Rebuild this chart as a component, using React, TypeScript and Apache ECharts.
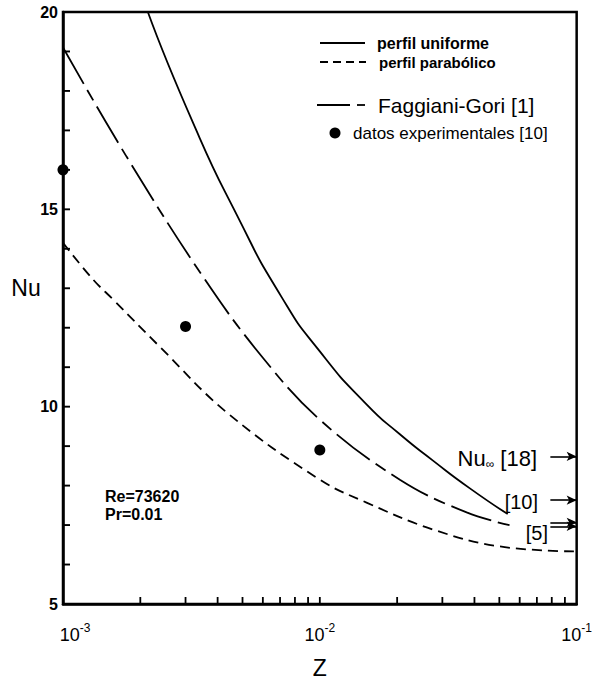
import React, { useEffect, useRef } from 'react';
import * as echarts from 'echarts';

// ---- data ----
const uniformZ = [2.14e-3, 3.21e-3, 4.75e-3, 7.11e-3, 1e-2, 1.52e-2, 2.05e-2, 2.75e-2, 3.84e-2, 5.39e-2];
const uniformNu = [20.0, 17.19, 14.86, 12.77, 11.4, 10.06, 9.3, 8.64, 7.93, 7.28];

const parabolicZ = [1e-3, 1.31e-3, 1.57e-3, 2.38e-3, 4.35e-3, 1e-2, 1.52e-2, 2.75e-2, 5.0e-2, 1e-1];
const parabolicNu = [14.15, 13.22, 12.71, 11.52, 9.85, 8.15, 7.57, 6.89, 6.46, 6.33];

const faggianiZ = [1e-3, 1.77e-3, 3.57e-3, 6.0e-3, 1e-2, 2.05e-2, 3.73e-2, 5.8e-2];
const faggianiNu = [19.1, 16.33, 13.22, 11.24, 9.67, 8.15, 7.32, 6.96];

const experimentalZ = [1e-3, 3e-3, 1e-2];
const experimentalNu = [16.0, 12.03, 8.9];

// asymptotic Nu values marked with arrows at the right border
const nuInfValues = [8.74, 7.63, 7.07, 6.97];
const arrowStartZ = 0.079;

// tick positions (drawn as inward tick marks)
const xTickZ = [
  2e-3, 3e-3, 4e-3, 5e-3, 6e-3, 7e-3, 8e-3, 9e-3, 1e-2,
  2e-2, 3e-2, 4e-2, 5e-2, 6e-2, 7e-2, 8e-2, 9e-2,
];
const yTickNu = [6, 7, 8, 9, 10, 11, 12, 13, 14, 15, 16, 17, 18, 19];

const yTicks = { min: 5, max: 20, interval: 5 };
const xRange = { min: 1e-3, max: 1e-1 };

const SANS = '"Liberation Sans", Arial, sans-serif';

function zip(xs: number[], ys: number[]) {
  return xs.map((x, i) => [x, ys[i]]);
}

export default function App() {
  const ref = useRef<HTMLDivElement>(null);

  useEffect(() => {
    document.body.style.margin = '0';
    if (!ref.current) return;
    const chart = echarts.init(ref.current, undefined, { renderer: 'svg' });

    const option: any = {
      animation: false,
      backgroundColor: '#ffffff',
      grid: {
        left: 63,
        right: 18,
        top: 12,
        bottom: 79,
        show: true,
        borderColor: '#000',
        borderWidth: 2.5,
        backgroundColor: 'transparent',
      },
      xAxis: {
        type: 'log',
        logBase: 10,
        min: xRange.min,
        max: xRange.max,
        axisLine: { lineStyle: { color: '#000', width: 2.5 } },
        axisTick: { show: false },
        splitLine: { show: false },
        minorTick: { show: false },
        axisLabel: {
          margin: 18,
          color: '#000',
          formatter: (v: number) => {
            const e = Math.round(Math.log10(v));
            if (e === -3) return `{bf|10}{s|${e}}`;
            return `{b|10}{s|${e}}`;
          },
          rich: {
            b: { fontSize: 18, fontFamily: SANS, color: '#000', lineHeight: 22, verticalAlign: 'bottom' },
            bf: { fontSize: 18, fontFamily: SANS, color: '#000', lineHeight: 22, verticalAlign: 'bottom', padding: [0, 0, 0, 24] },
            s: { fontSize: 12, fontFamily: SANS, color: '#000', lineHeight: 12, verticalAlign: 'top' },
          },
        },
        name: 'Z',
        nameLocation: 'middle',
        nameGap: 52,
        nameTextStyle: { fontSize: 23, color: '#000', fontFamily: SANS },
      },
      yAxis: {
        type: 'value',
        min: yTicks.min,
        max: yTicks.max,
        interval: yTicks.interval,
        axisLine: { show: true, lineStyle: { color: '#000', width: 2.5 } },
        axisTick: { show: false },
        minorTick: { show: false },
        splitLine: { show: false },
        axisLabel: {
          margin: 5,
          color: '#000',
          fontSize: 16,
          fontWeight: 'bold',
          fontFamily: SANS,
        },
      },
      series: [
        {
          name: 'perfil uniforme',
          type: 'line',
          data: zip(uniformZ, uniformNu),
          showSymbol: false,
          smooth: 0.6,
          lineStyle: { color: '#000', width: 1.8, type: 'solid' },
          markLine: {
            silent: true,
            symbol: ['none', 'arrow'],
            symbolSize: [7, 10],
            label: { show: false },
            lineStyle: { color: '#000', width: 1.6, type: 'solid' },
            data: nuInfValues.map((v) => [
              { coord: [arrowStartZ, v] },
              { coord: [xRange.max, v] },
            ]),
          },
        },
        {
          name: 'perfil parabólico',
          type: 'line',
          data: zip(parabolicZ, parabolicNu),
          showSymbol: false,
          smooth: 0.4,
          lineStyle: { color: '#000', width: 1.8, type: [10, 6] },
        },
        {
          name: 'Faggiani-Gori [1]',
          type: 'line',
          data: zip(faggianiZ, faggianiNu),
          showSymbol: false,
          smooth: 0.4,
          lineStyle: { color: '#000', width: 1.8, type: [42, 7, 12, 7] },
        },
        {
          name: 'datos experimentales [10]',
          type: 'scatter',
          data: zip(experimentalZ, experimentalNu),
          symbol: 'circle',
          symbolSize: 11,
          clip: false,
          z: 5,
          itemStyle: { color: '#000', opacity: 1 },
        },
        {
          name: 'x ticks',
          type: 'scatter',
          data: xTickZ.map((z) => [z, yTicks.min]),
          symbol: 'rect',
          symbolSize: [1.8, 7],
          symbolOffset: [0, -3.5],
          clip: false,
          silent: true,
          itemStyle: { color: '#000', opacity: 1 },
        },
        {
          name: 'y ticks',
          type: 'scatter',
          data: yTickNu.map((n) => [xRange.min, n]),
          symbol: 'rect',
          symbolSize: [7, 1.9],
          symbolOffset: [3.5, 0],
          clip: false,
          silent: true,
          z: 6,
          itemStyle: { color: '#000', opacity: 1 },
        },
      ],
      graphic: [
        // axis title (y)
        { type: 'text', style: { text: 'Nu', x: 26, y: 288, align: 'center', verticalAlign: 'middle', font: `23px ${SANS}`, fill: '#000' } },
        // legend
        { type: 'line', shape: { x1: 320, y1: 43, x2: 365, y2: 43 }, style: { stroke: '#000', lineWidth: 1.8 } },
        { type: 'text', style: { text: 'perfil uniforme', x: 377, y: 43, verticalAlign: 'middle', font: `bold 16px ${SANS}`, fill: '#000' } },
        { type: 'line', shape: { x1: 320, y1: 62, x2: 366, y2: 62 }, style: { stroke: '#000', lineWidth: 1.8, lineDash: [8, 5] } },
        { type: 'text', style: { text: 'perfil parabólico', x: 379, y: 62, verticalAlign: 'middle', font: `bold 15px ${SANS}`, fill: '#000' } },
        { type: 'line', shape: { x1: 317, y1: 105, x2: 350, y2: 105 }, style: { stroke: '#000', lineWidth: 1.8 } },
        { type: 'line', shape: { x1: 357, y1: 105, x2: 365, y2: 105 }, style: { stroke: '#000', lineWidth: 1.8 } },
        { type: 'text', style: { text: 'Faggiani-Gori [1]', x: 378, y: 105, verticalAlign: 'middle', font: `21px ${SANS}`, fill: '#000' } },
        { type: 'circle', shape: { cx: 335, cy: 133, r: 5.5 }, style: { fill: '#000' } },
        { type: 'text', style: { text: 'datos experimentales [10]', x: 353, y: 133, verticalAlign: 'middle', font: `17px ${SANS}`, fill: '#000' } },
        // parameters
        { type: 'text', style: { text: 'Re=73620', x: 105, y: 496, verticalAlign: 'middle', font: `bold 16px ${SANS}`, fill: '#000' } },
        { type: 'text', style: { text: 'Pr=0.01', x: 105, y: 514, verticalAlign: 'middle', font: `bold 16px ${SANS}`, fill: '#000' } },
        // asymptote labels
        {
          type: 'text',
          style: {
            text: '{a|Nu}{s|∞}{a| [18]}',
            x: 537, y: 458, align: 'right', verticalAlign: 'middle',
            rich: {
              a: { fontSize: 22, fontFamily: SANS, fill: '#000', lineHeight: 24, verticalAlign: 'middle' },
              s: { fontSize: 12, fontFamily: SANS, fill: '#000', lineHeight: 12, verticalAlign: 'bottom' },
            },
          },
        },
        { type: 'text', style: { text: '[10]', x: 538, y: 502, align: 'right', verticalAlign: 'middle', font: `20px ${SANS}`, fill: '#000' } },
        { type: 'text', style: { text: '[5]', x: 548, y: 533, align: 'right', verticalAlign: 'middle', font: `20px ${SANS}`, fill: '#000' } },
      ],
    };

    chart.setOption(option);
    return () => chart.dispose();
  }, []);

  return <div ref={ref} style={{ width: 595, height: 684 }} />;
}
